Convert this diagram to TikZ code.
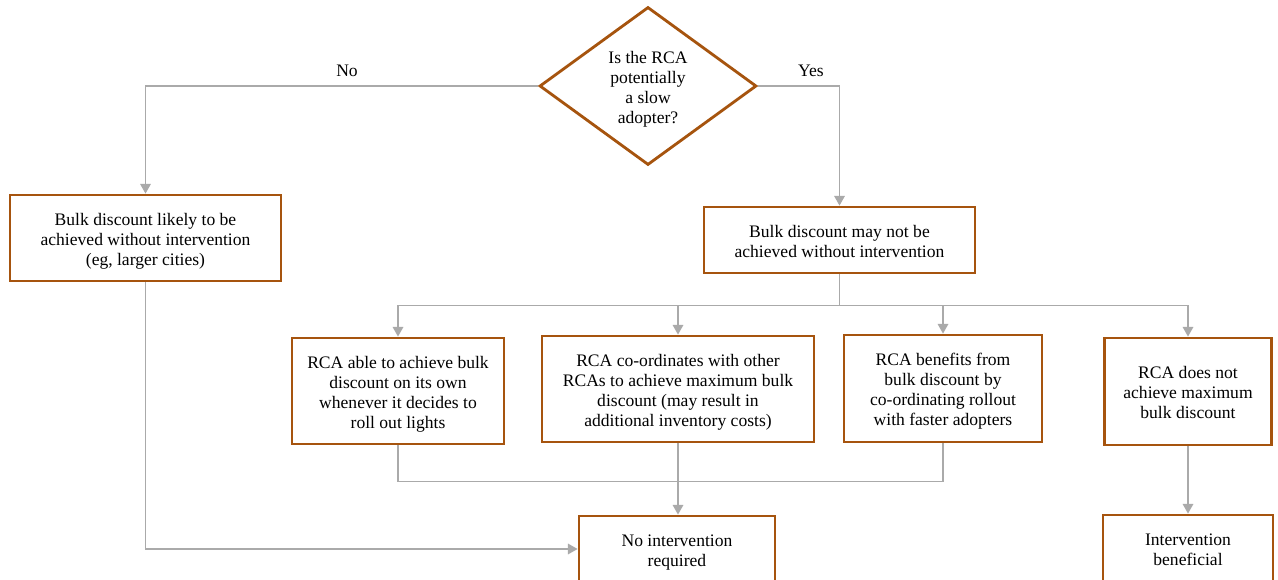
\documentclass[tikz,border=0pt]{standalone}
\usepackage{fontspec}
\setmainfont{Liberation Serif}
\usetikzlibrary{shapes.geometric,arrows.meta,calc}
\definecolor{boxbrown}{RGB}{166,84,14}
\definecolor{linegrey}{RGB}{170,170,170}
\newcommand{\boxtext}[1]{\raisebox{-1.8pt}[\height][\depth]{\begin{tabular}{@{}c@{}}#1\end{tabular}}}
\tikzset{
  box/.style={draw=boxbrown, line width=1.6pt, fill=white, inner sep=2pt,
    font=\fontsize{10}{11.4}\selectfont},
  decision/.style={diamond, draw=boxbrown, line width=1.6pt, fill=white,
    inner sep=0pt, minimum width=4.34cm, minimum height=3.16cm, aspect=1.37,
    font=\fontsize{10}{11.4}\selectfont},
  conn/.style={draw=linegrey, line width=0.8pt},
  arr/.style={conn, -{Triangle[width=6pt,length=5.5pt]}},
  lbl/.style={font=\fontsize{10}{11.4}\selectfont, inner sep=0pt}
}
\begin{document}
\begin{tikzpicture}[x=0.02cm,y=-0.02cm]
\useasboundingbox (0,0) rectangle (1278,580);
\clip (0,0) rectangle (1278,580);
\fill[white] (0,0) rectangle (1278,580);

\node[decision] (Q) at (648,86) {\boxtext{Is the RCA\\potentially\\a slow\\adopter?}};
\node[lbl] (no) at (347,71) {No};
\node[lbl] (yes) at (811,71) {Yes};

\node[box, minimum width=5.42cm, minimum height=1.72cm] (L) at (145.5,238)
  {\boxtext{Bulk discount likely to be\\achieved without intervention\\(eg, larger cities)}};
\node[box, minimum width=5.42cm, minimum height=1.32cm] (R) at (839.5,240)
  {\boxtext{Bulk discount may not be\\achieved without intervention}};

\node[box, minimum width=4.24cm, minimum height=2.12cm] (A) at (398,391)
  {\boxtext{RCA able to achieve bulk\\discount on its own\\whenever it decides to\\roll out lights}};
\node[box, minimum width=5.44cm, minimum height=2.12cm] (B) at (678,389)
  {\boxtext{RCA co-ordinates with other\\RCAs to achieve maximum bulk\\discount (may result in\\additional inventory costs)}};
\node[box, minimum width=3.96cm, minimum height=2.14cm] (C) at (943,388.5)
  {\boxtext{RCA benefits from\\bulk discount by\\co-ordinating rollout\\with faster adopters}};
\node[box, minimum width=3.34cm, minimum height=2.14cm] (D) at (1188,391.5)
  {\boxtext{RCA does not\\achieve maximum\\bulk discount}};

\node[box, minimum width=3.92cm, minimum height=1.32cm] (E) at (677,549)
  {\boxtext{No intervention\\required}};
\node[box, minimum width=3.40cm, minimum height=1.34cm] (F) at (1188,548.5)
  {\boxtext{Intervention\\beneficial}};

% connectors
\draw[arr] (Q.west) -| (L.north);
\draw[arr] (Q.east) -| (R.north);

\coordinate (s) at ($(R.south)+(0,31)$);
\draw[conn] (R.south) -- (s);
\draw[arr] (s) -| (A.north);
\draw[arr] (s) -| (B.north);
\draw[arr] (s) -| (C.north);
\draw[arr] (s) -| (D.north);

\coordinate (m) at ($(A.south)+(0,36)$);
\draw[conn] (A.south) -- (m) -| (C.south);
\draw[arr] (B.south) -- (B.south |- E.north);
\draw[arr] (L.south) |- (E.west);
\draw[arr] (D.south) -- (F.north);
\end{tikzpicture}
\end{document}
